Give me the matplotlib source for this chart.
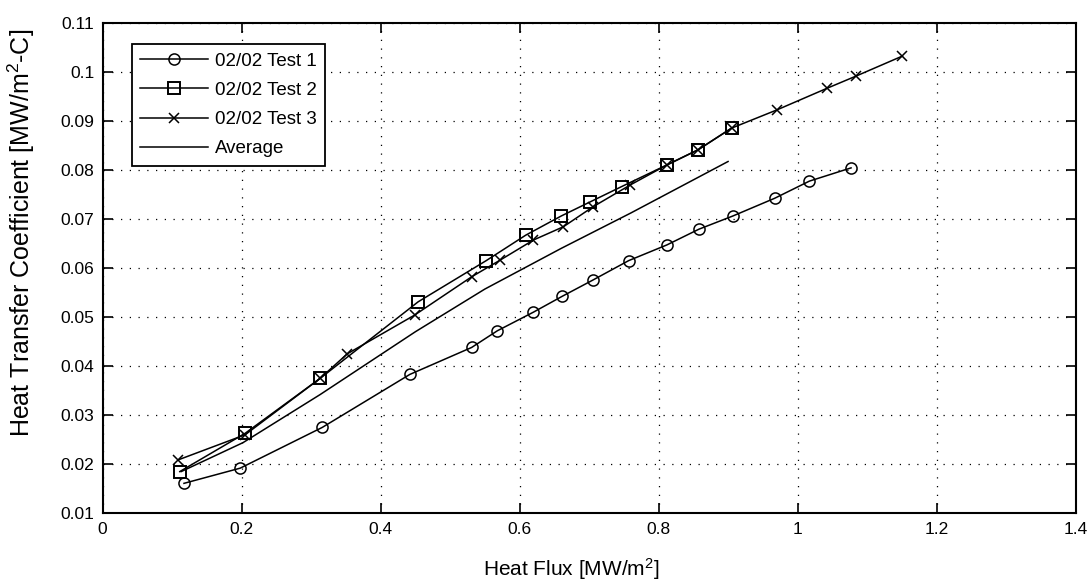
import matplotlib
matplotlib.use('Agg')
import matplotlib.pyplot as plt
import numpy as np

plt.rcParams['font.family'] = ['Liberation Sans', 'DejaVu Sans']
plt.rcParams['mathtext.default'] = 'regular'

# Test 1 (circles)
x1 = [0.117, 0.198, 0.316, 0.442, 0.531, 0.568, 0.620, 0.661, 0.705, 0.757,
      0.812, 0.858, 0.907, 0.967, 1.017, 1.077]
y1 = [0.0161, 0.0192, 0.0275, 0.0383, 0.0438, 0.0472, 0.0510, 0.0542, 0.0575, 0.0615,
      0.0647, 0.0679, 0.0706, 0.0742, 0.0777, 0.0804]

# Test 2 (squares)
x2 = [0.111, 0.205, 0.313, 0.454, 0.552, 0.609, 0.660, 0.702, 0.747, 0.812, 0.857, 0.905]
y2 = [0.0185, 0.0263, 0.0375, 0.0531, 0.0615, 0.0667, 0.0706, 0.0735, 0.0766, 0.0810,
      0.0841, 0.0885]

# Test 3 (crosses)
x3 = [0.109, 0.205, 0.313, 0.352, 0.449, 0.531, 0.572, 0.620, 0.663, 0.706, 0.759,
      0.812, 0.857, 0.905, 0.970, 1.042, 1.084, 1.151]
y3 = [0.0209, 0.0260, 0.0375, 0.0425, 0.0504, 0.0582, 0.0616, 0.0657, 0.0684,
      0.0725, 0.0769, 0.0810, 0.0841, 0.0885, 0.0922, 0.0966, 0.0991, 0.1032]

# Average (no markers)
xa = [0.113, 0.202, 0.313, 0.450, 0.550, 0.660, 0.760, 0.900]
ya = [0.0185, 0.0244, 0.0342, 0.0470, 0.0557, 0.0640, 0.0712, 0.0817]

labels = ['02/02 Test 1', '02/02 Test 2', '02/02 Test 3', 'Average']

xticks = [0, 0.2, 0.4, 0.6, 0.8, 1.0, 1.2, 1.4]
xtick_labels = ['0', '0.2', '0.4', '0.6', '0.8', '1', '1.2', '1.4']
yticks = [0.01, 0.02, 0.03, 0.04, 0.05, 0.06, 0.07, 0.08, 0.09, 0.10, 0.11]
ytick_labels = ['0.01', '0.02', '0.03', '0.04', '0.05', '0.06', '0.07', '0.08', '0.09', '0.1', '0.11']

fig = plt.figure(figsize=(10.91, 5.84), dpi=100)
ax = fig.add_axes([0.0941, 0.1211, 0.8917, 0.8401])

ax.plot(x1, y1, color='black', lw=1.1, marker='o', ms=8, mfc='none', mew=1.1, label=labels[0])
ax.plot(x2, y2, color='black', lw=1.1, marker='s', ms=9, mfc='none', mew=1.4, label=labels[1])
ax.plot(x3, y3, color='black', lw=1.1, marker='x', ms=7, mew=1.1, label=labels[2])
ax.plot(xa, ya, color='black', lw=1.1, label=labels[3])

ax.set_xlim(0, 1.4)
ax.set_ylim(0.01, 0.11)
ax.set_xticks(xticks)
ax.set_xticklabels(xtick_labels)
ax.set_yticks(yticks)
ax.set_yticklabels(ytick_labels)
ax.tick_params(direction='in', top=True, right=True, length=7, width=1.2, labelsize=12.5, pad=6)

ax.grid(True, color='black', linestyle=(0, (1, 6)), linewidth=0.9)
for sp in ax.spines.values():
    sp.set_linewidth(1.5)

ax.set_xlabel('Heat Flux [MW/m$^2$]', fontsize=15)
ax.xaxis.set_label_coords(0.4813, -0.088)
ax.set_ylabel('Heat Transfer Coefficient [MW/m$^2$-C]', fontsize=18)
ax.yaxis.set_label_coords(-0.068, 0.571)

leg = ax.legend(loc='upper left', bbox_to_anchor=(0.0298, 0.9566), fontsize=13.5,
                borderaxespad=0, handlelength=3.6, frameon=True, fancybox=False,
                edgecolor='black', framealpha=1, borderpad=0.45, labelspacing=0.65,
                handletextpad=0.4)
leg.get_frame().set_linewidth(1.3)

fig.savefig('out.png', dpi=100)
